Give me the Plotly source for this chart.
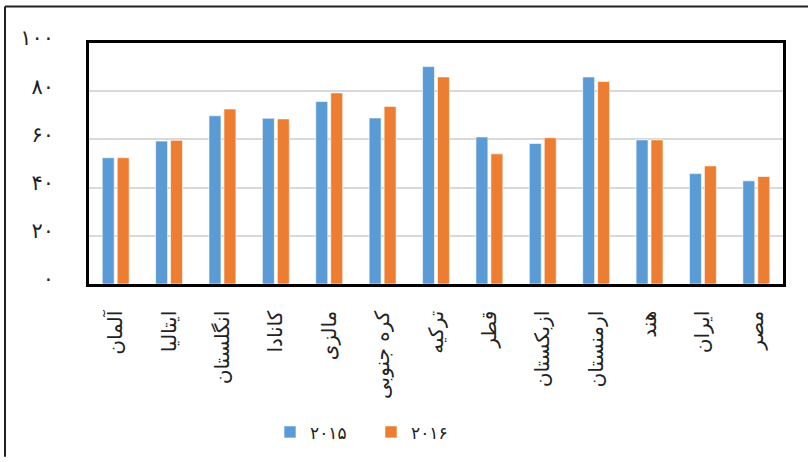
import plotly.graph_objects as go

categories = ["آلمان", "ایتالیا", "انگلستان", "کانادا", "مالزی", "کره جنوبی",
              "ترکیه", "قطر", "ازبکستان", "ارمنستان", "هند", "ایران", "مصر"]
values_2015 = [52.4, 59.3, 69.8, 68.8, 75.7, 68.9, 90.2, 61.0, 58.3, 85.9, 59.8, 45.8, 42.8]
values_2016 = [52.4, 59.6, 72.6, 68.5, 79.3, 73.7, 85.9, 54.0, 60.7, 84.0, 59.8, 49.0, 44.6]
series_names = ["۲۰۱۵", "۲۰۱۶"]
y_tickvals = [0, 20, 40, 60, 80, 100]
y_ticktext = ["۰", "۲۰", "۴۰", "۶۰", "۸۰", "۱۰۰"]

FONT = "DejaVu Sans"
W, H = 808, 462
L, R, T, B = 89, 25, 43, 175
pw, ph = W - L - R, H - T - B

def px2x(px):
    return (px - L) / pw

def py2y(py):
    return (H - B - py) / ph

fig = go.Figure()
fig.add_trace(go.Bar(x=categories, y=values_2015, name=series_names[0],
                     marker=dict(color="#5B9BD5", line=dict(color="rgba(255,255,255,0.6)", width=1))))
fig.add_trace(go.Bar(x=categories, y=values_2016, name=series_names[1],
                     marker=dict(color="#ED7D31", line=dict(color="rgba(255,255,255,0.6)", width=1))))

fig.update_layout(
    width=W, height=H,
    margin=dict(l=L, r=R, t=T, b=B),
    paper_bgcolor="white", plot_bgcolor="white",
    barmode="group", bargap=0.44, bargroupgap=0.2,
    font=dict(family=FONT, size=16, color="#222222"),
    showlegend=True,
    legend=dict(orientation="h", x=px2x(270), xanchor="left", y=py2y(419), yanchor="top",
                font=dict(size=17, color="#222222"), itemwidth=30, traceorder="normal",
                entrywidth=56),
    shapes=[
        dict(type="line", xref="paper", yref="paper", x0=px2x(5), x1=px2x(808),
             y0=py2y(6), y1=py2y(6), line=dict(color="#222222", width=2)),
        dict(type="line", xref="paper", yref="paper", x0=px2x(5), x1=px2x(5),
             y0=py2y(6), y1=py2y(462), line=dict(color="#222222", width=2)),
    ],
)
fig.update_xaxes(showline=True, linecolor="black", linewidth=2.5, mirror=True,
                 tickangle=-90, ticks="", ticklabelstandoff=16,
                 tickfont=dict(family=FONT, size=20, color="#222222"))
fig.update_yaxes(range=[0, 100], tickvals=y_tickvals, ticktext=y_ticktext,
                 showline=True, linecolor="black", linewidth=2.5, mirror=True,
                 showgrid=True, gridcolor="#d9d9d9", gridwidth=1.5,
                 zeroline=False, ticks="", ticklabelstandoff=28, ticklabelshift=-5,
                 tickfont=dict(family=FONT, size=21, color="#222222"))

fig.write_html("out.html")
